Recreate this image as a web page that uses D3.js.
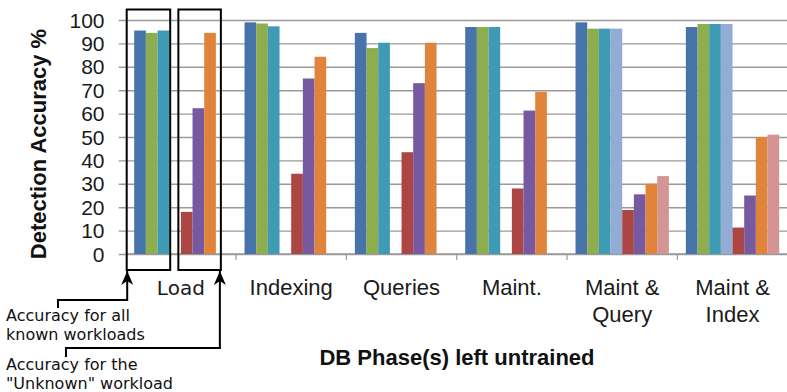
<!DOCTYPE html>
<html>
<head>
<meta charset="utf-8">
<script src="https://cdn.jsdelivr.net/npm/d3@7"></script>
<style>
  html, body { margin: 0; padding: 0; background: #fff; }
  svg { display: block; }
</style>
</head>
<body>
<svg id="chart" width="787" height="392"></svg>
<script>
// Untrained DB phase groups (label lines)
const categories = ["Load", "Indexing", "Queries", "Maint.", "Maint & Query", "Maint & Index"];
const categoryLines = [["Load"], ["Indexing"], ["Queries"], ["Maint."], ["Maint &", "Query"], ["Maint &", "Index"]];

// Accuracy for known workloads (up to four per group)
const known1 = [95.5, 99.0, 94.5, 97.0, 99.0, 97.0];
const known2 = [94.5, 98.5, 88.0, 97.0, 96.3, 98.3];
const known3 = [95.5, 97.3, 90.3, 97.0, 96.3, 98.3];
const known4 = [null, null, null, null, 96.3, 98.3];

// Accuracy for the "Unknown" workload
const unknown1 = [18.0, 34.3, 43.5, 28.0, 18.8, 11.3];
const unknown2 = [62.3, 75.0, 73.0, 61.3, 25.5, 25.0];
const unknown3 = [94.5, 84.3, 90.3, 69.3, 30.0, 50.0];
const unknown4 = [null, null, null, null, 33.3, 51.0];

const yTicks = [0, 10, 20, 30, 40, 50, 60, 70, 80, 90, 100];

const seriesList = [
  { name: "known1", values: known1, color: "#4673AA" },
  { name: "known2", values: known2, color: "#8DAD4F" },
  { name: "known3", values: known3, color: "#3F9BB4" },
  { name: "known4", values: known4, color: "#92ACD6" },
  { name: "unknown1", values: unknown1, color: "#AC4644" },
  { name: "unknown2", values: unknown2, color: "#7659A0" },
  { name: "unknown3", values: unknown3, color: "#E1843B" },
  { name: "unknown4", values: unknown4, color: "#D59494" }
];

const svg = d3.select("#chart");
const plotLeft = 125.7, plotRight = 787.7, plotTop = 20, plotBottom = 254;

const x = d3.scaleBand().domain(categories).range([plotLeft, plotRight]).padding(0);
const gap = 8.5;
const xs = d3.scaleBand().domain(seriesList.map(s => s.name))
  .range([gap, x.bandwidth() - gap]).padding(0);
const y = d3.scaleLinear().domain([0, 100]).range([plotBottom, plotTop]);

// Gridlines with outward ticks
const yAxis = d3.axisLeft(y).tickValues(yTicks).tickSize(-(plotRight - plotLeft)).tickSizeOuter(0).tickFormat("");
const gy = svg.append("g").attr("transform", `translate(${plotLeft},0)`).call(yAxis);
gy.select(".domain").remove();
gy.selectAll(".tick line").attr("x1", -7).attr("stroke", "#9a9a9a").attr("stroke-width", 1.4);

// Tick labels
svg.append("g").selectAll("text").data(yTicks).join("text")
  .attr("x", 104.5).attr("y", d => y(d) + 7.5)
  .attr("text-anchor", "end")
  .attr("font-family", "Liberation Sans, Arial, sans-serif")
  .attr("font-size", 21).attr("fill", "#1a1a1a")
  .text(d => d);

// Category axis line and boundary ticks
svg.append("line").attr("x1", plotLeft).attr("x2", plotRight).attr("y1", plotBottom).attr("y2", plotBottom)
  .attr("stroke", "#9a9a9a").attr("stroke-width", 1.4);
svg.append("g").selectAll("line").data(categories.slice(1)).join("line")
  .attr("x1", d => x(d)).attr("x2", d => x(d))
  .attr("y1", plotBottom).attr("y2", plotBottom + 6)
  .attr("stroke", "#9a9a9a").attr("stroke-width", 1.2);

// Bars
const groups = svg.append("g").selectAll("g").data(categories).join("g")
  .attr("transform", d => `translate(${x(d)},0)`);
groups.selectAll("rect")
  .data((c, i) => seriesList.filter(s => s.values[i] != null).map(s => ({ s, v: s.values[i] })))
  .join("rect")
  .attr("x", d => xs(d.s.name))
  .attr("width", xs.bandwidth())
  .attr("y", d => y(d.v))
  .attr("height", d => plotBottom - y(d.v))
  .attr("fill", d => d.s.color);

// Category labels
const catText = svg.append("g").selectAll("text").data(categories).join("text")
  .attr("x", d => x(d) + x.bandwidth() / 2)
  .attr("y", 295)
  .attr("text-anchor", "middle")
  .attr("font-family", (d, i) => i === 0 ? "DejaVu Sans, sans-serif" : "Liberation Sans, Arial, sans-serif")
  .attr("font-size", (d, i) => i === 0 ? 20 : 22)
  .attr("fill", "#1a1a1a");
catText.each(function (d, i) {
  d3.select(this).selectAll("tspan").data(categoryLines[i]).join("tspan")
    .attr("x", x(d) + x.bandwidth() / 2)
    .attr("dy", (t, j) => j === 0 ? 0 : 26.5)
    .text(t => t);
});

// Axis titles
svg.append("text")
  .attr("transform", `translate(46,${(28 + 260) / 2}) rotate(-90)`)
  .attr("text-anchor", "middle")
  .attr("font-family", "Liberation Sans, Arial, sans-serif")
  .attr("font-weight", "bold").attr("font-size", 22).attr("fill", "#111")
  .text("Detection Accuracy %");
svg.append("text")
  .attr("x", 457).attr("y", 365)
  .attr("text-anchor", "middle")
  .attr("font-family", "Liberation Sans, Arial, sans-serif")
  .attr("font-weight", "bold").attr("font-size", 22).attr("fill", "#111")
  .text("DB Phase(s) left untrained");

// Highlight boxes around the Load clusters
const loadX = x("Load");
const boxes = [
  { x0: loadX + xs("known1") - 7.5, x1: loadX + xs("known3") + xs.bandwidth() + 1 },
  { x0: loadX + xs("unknown1") - 2.5, x1: loadX + xs("unknown3") + xs.bandwidth() + 5 }
];
svg.append("g").selectAll("rect").data(boxes).join("rect")
  .attr("x", d => d.x0).attr("y", 9.5)
  .attr("width", d => d.x1 - d.x0).attr("height", 270 - 9.5)
  .attr("fill", "none").attr("stroke", "#000").attr("stroke-width", 2);

// Callout arrows
svg.append("defs").append("marker")
  .attr("id", "head").attr("viewBox", "0 0 12 14").attr("refX", 6).attr("refY", 0)
  .attr("markerWidth", 12).attr("markerHeight", 14).attr("markerUnits", "userSpaceOnUse")
  .attr("orient", "0")
  .append("path").attr("d", "M6,0 L12,14 L6,10 L0,14 Z").attr("fill", "#000");

const callouts = [
  { tipX: boxes[0].x0 + 0.5, midY: 300, endX: 58, endY: 308 },
  { tipX: boxes[1].x1 - 1, midY: 348, endX: 66, endY: 357 }
];
svg.append("g").selectAll("path").data(callouts).join("path")
  .attr("d", d => `M${d.tipX},271 V${d.midY} H${d.endX} V${d.endY}`)
  .attr("fill", "none").attr("stroke", "#000").attr("stroke-width", 2)
  .attr("marker-start", "url(#head)");

const notes = [
  { text: "Accuracy for all", y: 321 },
  { text: "known workloads", y: 340 },
  { text: "Accuracy for the", y: 370 },
  { text: "\"Unknown\" workload", y: 389 }
];
svg.append("g").selectAll("text").data(notes).join("text")
  .attr("x", 6).attr("y", d => d.y)
  .attr("font-family", "DejaVu Sans, sans-serif")
  .attr("font-size", 16).attr("fill", "#111")
  .text(d => d.text);
</script>
</body>
</html>
